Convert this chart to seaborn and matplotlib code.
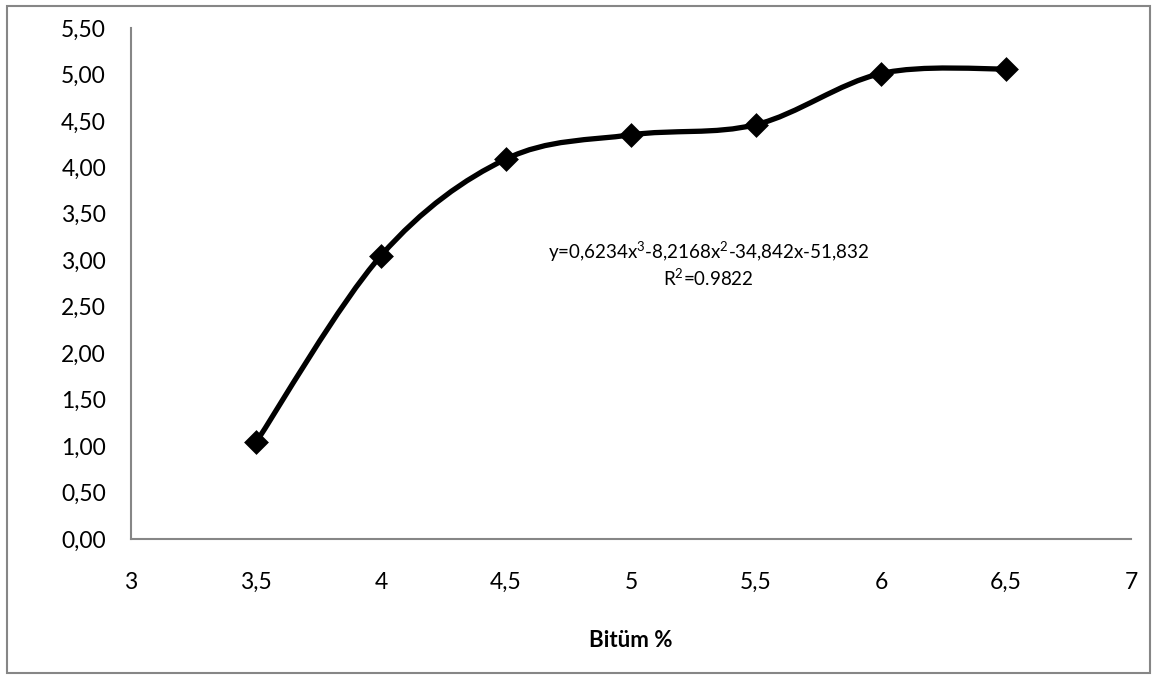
import numpy as np
import matplotlib
matplotlib.use("Agg")
import matplotlib.pyplot as plt
from matplotlib.path import Path
from matplotlib.patches import PathPatch, Rectangle
import seaborn as sns
import pandas as pd

# ---- data ----
bitum = [3.5, 4.0, 4.5, 5.0, 5.5, 6.0, 6.5]
values = [1.04, 3.05, 4.09, 4.35, 4.46, 5.01, 5.06]
x_ticks = [3, 3.5, 4, 4.5, 5, 5.5, 6, 6.5, 7]
x_tick_labels = ["3", "3,5", "4", "4,5", "5", "5,5", "6", "6,5", "7"]
y_ticks = [0, 0.5, 1, 1.5, 2, 2.5, 3, 3.5, 4, 4.5, 5, 5.5]
y_tick_labels = ["0,00", "0,50", "1,00", "1,50", "2,00", "2,50", "3,00",
                 "3,50", "4,00", "4,50", "5,00", "5,50"]
x_label = "Bitüm %"
equation = "y=0,6234x$^{3}$-8,2168x$^{2}$-34,842x-51,832\nR$^{2}$=0.9822"

df = pd.DataFrame({"x": bitum, "y": values})

sns.set_theme(style="white")
plt.rcParams["font.family"] = ["Lato", "DejaVu Sans"]
plt.rcParams["mathtext.fontset"] = "custom"
plt.rcParams["mathtext.rm"] = "Lato"
plt.rcParams["mathtext.it"] = "Lato"
plt.rcParams["mathtext.default"] = "regular"

W, H = 1158, 679
fig = plt.figure(figsize=(W / 100, H / 100), dpi=100)
ax = fig.add_axes([131 / W, 1 - 539 / H, 1000 / W, 511 / H])

# Excel-like smoothed line: cubic Bezier segments (Catmull-Rom style)
pts = np.column_stack([df["x"].to_numpy(), df["y"].to_numpy()])
verts = [tuple(pts[0])]
codes = [Path.MOVETO]
n = len(pts)
for i in range(n - 1):
    p0 = pts[i - 1] if i > 0 else pts[i]
    p1 = pts[i]
    p2 = pts[i + 1]
    p3 = pts[i + 2] if i + 2 < n else pts[i + 1]
    c1 = p1 + (p2 - p0) / 6.0
    c2 = p2 - (p3 - p1) / 6.0
    verts += [tuple(c1), tuple(c2), tuple(p2)]
    codes += [Path.CURVE4] * 3
ax.add_patch(PathPatch(Path(verts, codes), facecolor="none",
                       edgecolor="black", lw=3.8, capstyle="round",
                       joinstyle="round", zorder=2))

sns.scatterplot(data=df, x="x", y="y", marker="D", s=160, color="black",
                edgecolor="black", linewidth=0, ax=ax, zorder=3)

ax.set_xlim(3, 7)
ax.set_ylim(0, 5.5)
ax.set_xticks(x_ticks)
ax.set_xticklabels(x_tick_labels)
ax.set_yticks(y_ticks)
ax.set_yticklabels(y_tick_labels)

for side in ["top", "right"]:
    ax.spines[side].set_visible(False)
for side in ["left", "bottom"]:
    ax.spines[side].set_color("#868686")
    ax.spines[side].set_linewidth(1.5)

ax.tick_params(axis="both", direction="in", length=5, width=1.2,
               color="#868686", labelsize=16.5, labelcolor="black")
ax.tick_params(axis="y", pad=18)
ax.tick_params(axis="x", pad=24)

ax.set_ylabel("")
ax.set_xlabel(x_label, fontsize=16, fontweight="bold", color="black")
ax.xaxis.set_label_coords(0.5, -0.198)
ax.xaxis.label.set_verticalalignment("center")

ax.text(5.31, 2.96, equation, ha="center", va="center", fontsize=13.5,
        color="black", linespacing=1.2)

# outer chart border
fig.patches.append(Rectangle((7 / W, 6 / H), 1143 / W, 667 / H,
                             transform=fig.transFigure, fill=False,
                             edgecolor="#868686", lw=1.5))

fig.savefig("out.png", dpi=100)
